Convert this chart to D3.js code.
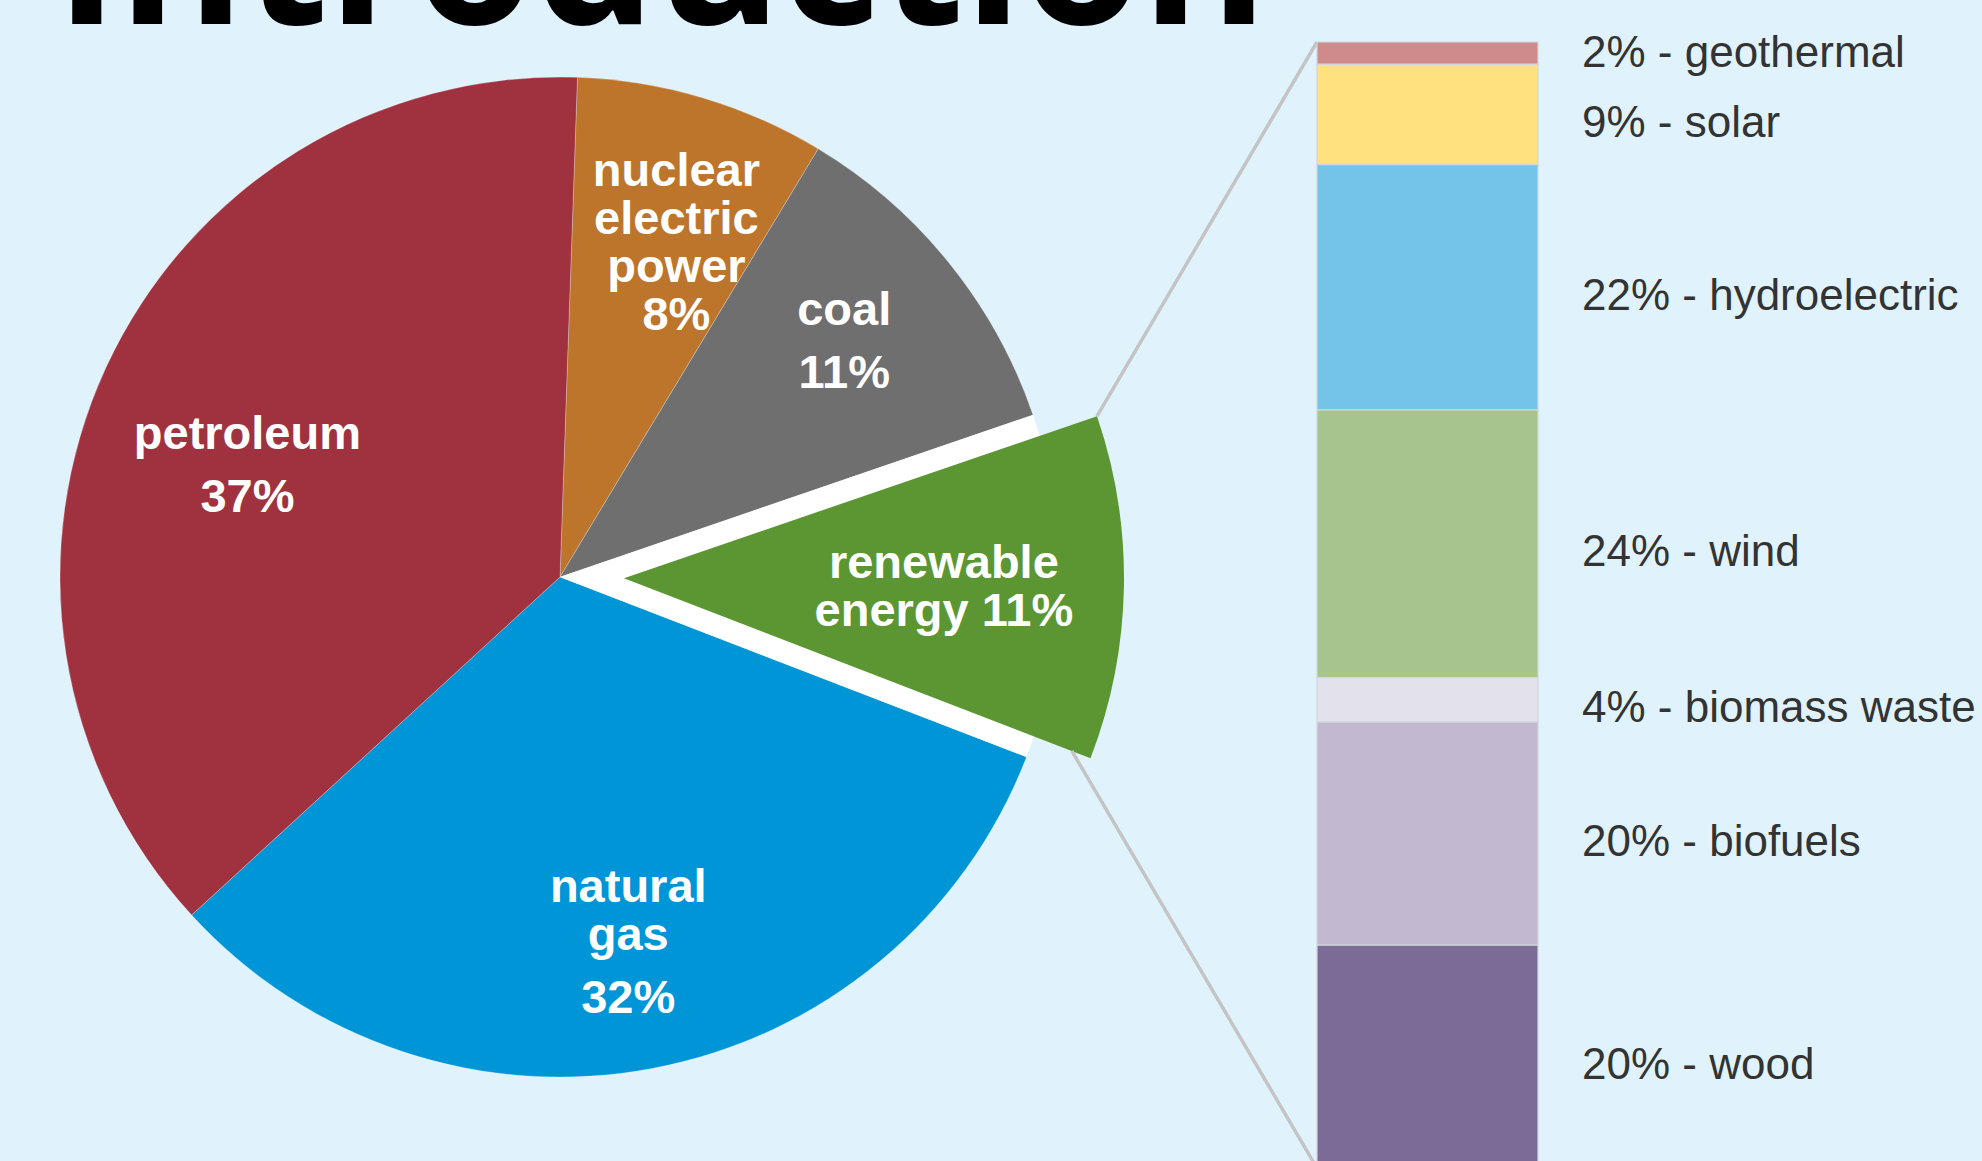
<!DOCTYPE html>
<html lang="en">
<head>
<meta charset="UTF-8">
<title>Introduction - energy consumption by source</title>
<script src="https://d3js.org/d3.v7.min.js"></script>
<style>
    html, body { margin: 0; padding: 0; background: #e0f3fd; overflow: hidden; }
    svg { display: block; }
    .title { font-family: "Open Sans", sans-serif; font-weight: 700; fill: #000; }
    .slice-label { font-family: "Liberation Sans", Arial, sans-serif; font-weight: 700; fill: #fff; text-anchor: middle; }
    .bar-label { font-family: "Liberation Sans", Arial, sans-serif; fill: #333; }
</style>
</head>
<body>
<svg id="chart" width="1982" height="1161"></svg>
<script>
// pie: energy sources (clockwise from the top)
var sources = ["nuclear electric power", "coal", "renewable energy", "natural gas", "petroleum"];
var shares = [8, 11, 11, 32, 37];
var sourceColors = ["#bd742b", "#6f6f6f", "#5b9632", "#0095d6", "#a0323f"];

// bar: breakdown of the renewable slice (top to bottom)
var renewables = ["geothermal", "solar", "hydroelectric", "wind", "biomass waste", "biofuels", "wood"];
var renewableShares = [2, 9, 22, 24, 4, 20, 20];
var renewableColors = ["#cf8a8c", "#ffe17f", "#74c4e8", "#a7c48c", "#e3e1ea", "#c2b9d0", "#7d6b97"];

// label text for the slices (name lines); the percent is added from shares
var nameLines = [["nuclear", "electric", "power"], ["coal"], ["renewable", "energy"], ["natural", "gas"], ["petroleum"]];
var pctMode = ["line", "para", "inline", "para", "para"];
// label placement: fraction of radius, angle nudge in degrees
var labelLayout = [[0.71, 2.6], [0.74, -0.9], [0.64, 0.3], [0.74, 0.1], [0.665, -4.8]];

var width = 1982, height = 1161;
var cx = 560, cy = 577, R = 500, explode = 64;
var explodedIndex = 2;
var barX = 1317, barW = 221, barTop = 42, pxPerPct = 11.15;

var svg = d3.select("#chart");

svg.append("rect")
    .attr("width", width)
    .attr("height", height)
    .attr("fill", "#e0f3fd");

// title, mostly cut off by the top edge
svg.append("text")
    .attr("class", "title")
    .attr("x", 55)
    .attr("y", 24)
    .style("font-size", "192px")
    .text("Introduction");

var startAngle = 2 * Math.PI / 180;
var pie = d3.pie().sort(null).startAngle(startAngle).endAngle(startAngle + 2 * Math.PI);
var arcs = pie(shares);
var arc = d3.arc().innerRadius(0).outerRadius(R);

var g = svg.append("g").attr("transform", "translate(" + cx + "," + cy + ")");

function offsetOf(d, dist) {
    var mid = (d.startAngle + d.endAngle) / 2;
    return [dist * Math.sin(mid), -dist * Math.cos(mid)];
}
function polar(angle, r) {
    return [r * Math.sin(angle), -r * Math.cos(angle)];
}

// regular slices
g.selectAll(".slice")
    .data(arcs.filter(function(d) { return d.index !== explodedIndex; }))
  .enter().append("path")
    .attr("class", "slice")
    .attr("d", arc)
    .attr("fill", function(d) { return sourceColors[d.index]; })
    .attr("stroke", "#ffffff")
    .attr("stroke-opacity", 0.25)
    .attr("stroke-width", 1);

// white hole where the pulled-out slice used to sit
var ex = arcs[explodedIndex];
g.append("path")
    .attr("d", arc(ex))
    .attr("fill", "#ffffff");

// bar scale
var total = d3.sum(renewableShares);
var y = d3.scaleLinear().domain([0, total]).range([barTop, barTop + total * pxPerPct]);
var cum = [0].concat(Array.from(d3.cumsum(renewableShares)));

// connector lines from the pulled-out slice to the bar
var off = offsetOf(ex, explode);
var p1 = polar(ex.startAngle, R);
var p2 = polar(ex.endAngle, R * 0.96);
svg.append("line")
    .attr("x1", cx + off[0] + p1[0]).attr("y1", cy + off[1] + p1[1])
    .attr("x2", barX).attr("y2", y(0))
    .attr("stroke", "#c4c4c4").attr("stroke-width", 3.5);
svg.append("line")
    .attr("x1", cx + off[0] + p2[0]).attr("y1", cy + off[1] + p2[1])
    .attr("x2", barX).attr("y2", y(total))
    .attr("stroke", "#c4c4c4").attr("stroke-width", 3.5);

// pulled-out slice
g.append("path")
    .attr("d", arc(ex))
    .attr("transform", "translate(" + off[0] + "," + off[1] + ")")
    .attr("fill", sourceColors[explodedIndex]);

// slice labels
arcs.forEach(function(d, i) {
    var groups = [];
    var names = nameLines[i].slice();
    var pct = shares[i] + "%";
    if (pctMode[i] === "inline") {
        names[names.length - 1] = names[names.length - 1] + " " + pct;
        groups = [names];
    } else if (pctMode[i] === "line") {
        groups = [names.concat([pct])];
    } else {
        groups = [names, [pct]];
    }
    var lineGap = 48, paraGap = 63;
    var ys = [], yy = 0, lines = [];
    groups.forEach(function(grp) {
        grp.forEach(function(t, li) {
            if (lines.length > 0) yy += (li === 0 ? paraGap : lineGap);
            ys.push(yy);
            lines.push(t);
        });
    });
    var mid = (d.startAngle + d.endAngle) / 2 + labelLayout[i][1] * Math.PI / 180;
    var c = polar(mid, R * labelLayout[i][0]);
    var base = i === explodedIndex ? offsetOf(d, explode) : [0, 0];
    var x0 = c[0] + base[0], y0 = c[1] + base[1] - yy / 2;
    var t = g.append("text")
        .attr("class", "slice-label")
        .style("font-size", "47px");
    lines.forEach(function(s, k) {
        t.append("tspan")
            .attr("x", x0)
            .attr("y", y0 + ys[k])
            .attr("dy", "0.35em")
            .text(s);
    });
});

// stacked bar
svg.selectAll(".seg")
    .data(renewableShares)
  .enter().append("rect")
    .attr("class", "seg")
    .attr("x", barX)
    .attr("width", barW)
    .attr("y", function(d, i) { return y(cum[i]); })
    .attr("height", function(d, i) { return y(cum[i + 1]) - y(cum[i]); })
    .attr("fill", function(d, i) { return renewableColors[i]; })
    .attr("stroke", "#cfd6de")
    .attr("stroke-width", 1.2);

// bar labels, pushed apart where they would collide
var labelY = renewableShares.map(function(d, i) { return (y(cum[i]) + y(cum[i + 1])) / 2 + 7; });
for (var i = labelY.length - 2; i >= 0; i--) {
    if (labelY[i + 1] - labelY[i] < 70) labelY[i] = labelY[i + 1] - 70;
}
svg.selectAll(".bar-label")
    .data(renewables)
  .enter().append("text")
    .attr("class", "bar-label")
    .attr("x", 1582)
    .attr("y", function(d, i) { return labelY[i]; })
    .attr("dy", "0.35em")
    .style("font-size", "44px")
    .text(function(d, i) { return renewableShares[i] + "% - " + d; });
</script>
</body>
</html>
